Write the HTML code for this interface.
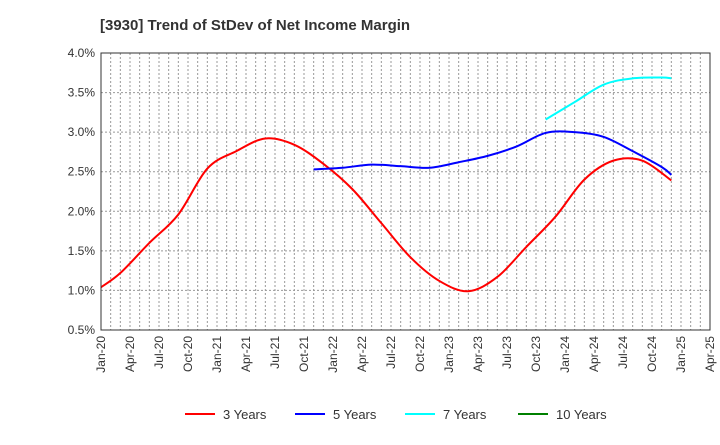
<!DOCTYPE html>
<html><head><meta charset="utf-8"><style>
body{margin:0;background:#fff;font-family:"Liberation Sans",sans-serif}
</style></head><body>
<svg id="chart" width="720" height="440" xmlns="http://www.w3.org/2000/svg" font-family="Liberation Sans, sans-serif">
<text x="100" y="30" font-size="15" font-weight="bold" fill="#333">[3930]  Trend of StDev of Net Income Margin</text>
<g id="grid"></g><g id="series"></g><g id="axes"></g>
<g id="legend"></g>
</svg>
<script>
const yTicks=[0.5,1.0,1.5,2.0,2.5,3.0,3.5,4.0];
const xLabels=["Jan-20","Apr-20","Jul-20","Oct-20","Jan-21","Apr-21","Jul-21","Oct-21","Jan-22","Apr-22","Jul-22","Oct-22","Jan-23","Apr-23","Jul-23","Oct-23","Jan-24","Apr-24","Jul-24","Oct-24","Jan-25","Apr-25"];
const m3=[0,2,5,8,11,14,17,20,23,26,29,32,35,38,41,44,47,50,53,56,59];
const v3=[1.04,1.22,1.60,1.96,2.54,2.76,2.92,2.84,2.60,2.28,1.85,1.42,1.12,0.99,1.17,1.55,1.93,2.40,2.64,2.64,2.39];
const m5=[22,25,28,31,34,37,40,43,46,49,52,55,58,59];
const v5=[2.53,2.55,2.59,2.57,2.55,2.62,2.70,2.82,2.99,3.00,2.94,2.76,2.56,2.46];
const m7=[46,49,52,55,58,59];
const v7=[3.16,3.38,3.60,3.68,3.69,3.68];
const m10=[];const v10=[];
const L=101,R=710,T=53,B=330,NS="http://www.w3.org/2000/svg";
const xs=m=>L+(R-L)*m/63, ys=v=>B-(v-0.5)/3.5*(B-T);
function el(t,a,p){const e=document.createElementNS(NS,t);for(const k in a)e.setAttribute(k,a[k]);document.getElementById(p).appendChild(e);return e;}
for(let m=1;m<63;m++){const g=el('line',{x1:xs(m),x2:xs(m),y1:T,y2:B,stroke:'#999','stroke-dasharray':'2,2','stroke-width':1},'grid');

}
yTicks.forEach(v=>{const g=el('line',{x1:L,x2:R,y1:ys(v),y2:ys(v),stroke:'#999','stroke-dasharray':'2,2'},'grid');


const t=el('text',{x:L-6,y:ys(v)+4,'text-anchor':'end','font-size':12,fill:'#333'},'axes');t.textContent=v.toFixed(1)+'%';

});
xLabels.forEach((s,i)=>{const x=xs(i*3);const t=el('text',{transform:`translate(${x+4},${B+6}) rotate(-90)`,'text-anchor':'end','font-size':12,fill:'#333'},'axes');t.textContent=s;

});
const fr=el('rect',{x:L,y:T,width:R-L,height:B-T,fill:'none',stroke:'#333'},'axes');


function path(ms,vs){const p=ms.map((m,i)=>[xs(m),ys(vs[i])]);if(!p.length)return '';let d=`M${p[0][0]},${p[0][1]}`;
for(let i=0;i<p.length-1;i++){const a=p[i-1]||p[i],b=p[i],c=p[i+1],e=p[i+2]||c;
d+=`C${b[0]+(c[0]-a[0])/6},${b[1]+(c[1]-a[1])/6} ${c[0]-(e[0]-b[0])/6},${c[1]-(e[1]-b[1])/6} ${c[0]},${c[1]}`;}return d;}
const S=[["3 Years",m3,v3,"#ff0000"],["5 Years",m5,v5,"#0000ff"],["7 Years",m7,v7,"#00ffff"],["10 Years",m10,v10,"#008000"]];
const lx=[185,295,405,518];
S.forEach((s,i)=>{if(s[1].length){const p=el('path',{d:path(s[1],s[2]),fill:'none',stroke:s[3],'stroke-width':2},'series');

}
const l=el('line',{x1:lx[i],x2:lx[i]+30,y1:414,y2:414,stroke:s[3],'stroke-width':2},'legend');


const t=el('text',{x:lx[i]+38,y:419,'font-size':13,fill:'#333'},'legend');t.textContent=s[0];

});
</script>
</body></html>
